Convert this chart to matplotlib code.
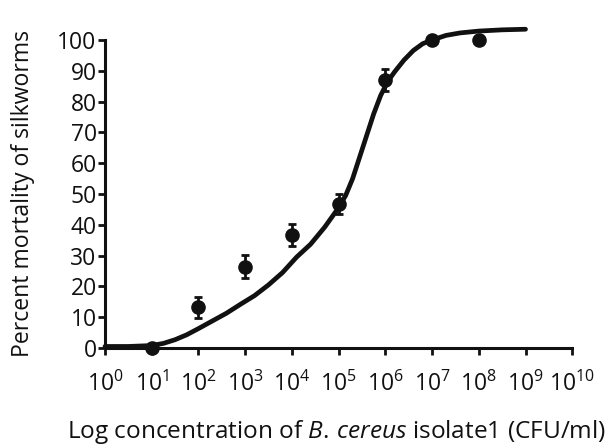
import matplotlib
matplotlib.use("Agg")
import matplotlib.pyplot as plt

plt.rcParams['font.family'] = ['Open Sans', 'DejaVu Sans']
plt.rcParams['mathtext.fontset'] = 'custom'
plt.rcParams['mathtext.rm'] = 'Open Sans'
plt.rcParams['mathtext.it'] = 'Open Sans:italic'

# observed mortality (mean +/- error) at each concentration
conc_exp = [1, 2, 3, 4, 5, 6, 7, 8]
mortality = [0, 13.2, 26.4, 36.7, 46.8, 87, 100, 100]
mort_err = [0, 3.4, 3.7, 3.6, 3.2, 3.5, 0, 0]

# fitted dose-response curve
curve_exp = [0, 0.5, 1, 1.25, 1.5, 1.75, 2, 2.3, 2.6, 2.9, 3.2, 3.5, 3.8,
             4.1, 4.4, 4.7, 4.95, 5.15, 5.3, 5.45, 5.6, 5.75, 5.9, 6.05,
             6.2, 6.4, 6.6, 6.8, 7, 7.3, 7.6, 8, 8.5, 9]
curve_mort = [0.5, 0.5, 0.8, 1.5, 2.7, 4.3, 6.3, 8.8, 11.3, 14.2, 17, 20.5,
              24.5, 29.5, 33.7, 39.2, 44.5, 49.5, 55, 62, 69, 76, 82,
              86.5, 89.7, 93.5, 96.6, 98.8, 100, 101.5, 102.3, 102.9, 103.3,
              103.5]

tick_exp = list(range(0, 11))

fig = plt.figure(figsize=(6.14, 4.48), dpi=100)
ax = fig.add_axes([0.171, 0.2232, 0.761, 0.6875])

ax.plot([10.0**e for e in curve_exp], curve_mort, color='#111111', lw=3.4,
        solid_capstyle='round', solid_joinstyle='round', clip_on=False,
        zorder=3)
ax.errorbar([10.0**e for e in conc_exp], mortality, yerr=mort_err, fmt='o',
            color='#111111', ms=9.5, elinewidth=2, capsize=3, capthick=2,
            clip_on=False, zorder=4)

ax.set_xscale('log')
ax.set_xlim(1, 1e10)
ax.set_ylim(0, 100)
ax.set_xticks([10.0**e for e in tick_exp])
ax.set_xticklabels([f'$10^{{{e}}}$' for e in tick_exp])
ax.minorticks_off()
ax.set_yticks(range(0, 101, 10))

for s in ['top', 'right']:
    ax.spines[s].set_visible(False)
for s in ['left', 'bottom']:
    ax.spines[s].set_linewidth(2.2)
    ax.spines[s].set_color('#111111')

ax.tick_params(axis='both', width=2, length=5, color='#111111',
               labelsize=16.5, labelcolor='#111111')
ax.tick_params(axis='x', pad=12)
ax.tick_params(axis='y', pad=1)

ax.set_ylabel('Percent mortality of silkworms', fontsize=16.6,
              color='#111111')
ax.yaxis.set_label_coords(-0.15, 0.502)
fig.text(0.548, 0.022, 'Log concentration of $\\it{B.\\,cereus}$ isolate1 (CFU/ml)',
         ha='center', va='baseline', fontsize=17.6, color='#111111')

fig.savefig('out.png', dpi=100)
